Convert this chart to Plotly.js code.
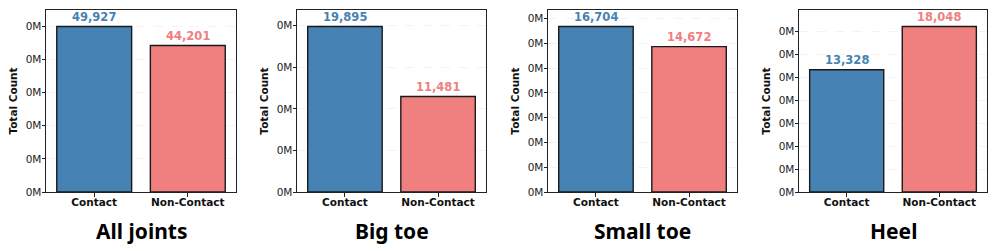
<!DOCTYPE html>
<html><head><meta charset="utf-8">
<script src="https://cdn.plot.ly/plotly-3.0.1.min.js"></script>
<style>html,body{margin:0;padding:0;background:#fff}#plot{width:997px;height:251px}</style>
</head><body><div id="plot"></div>
<script>
const categories = ["Contact", "Non-Contact"];
const panelTitles = ["All joints", "Big toe", "Small toe", "Heel"];
const contactValues = [49927, 19895, 16704, 13328];
const nonContactValues = [44201, 11481, 14672, 18048];
const tickSteps = [10000, 5000, 2500, 2500];
const tickLabel = "0M";

const W = 997, H = 251;
const xPix = [[46, 236], [297, 486], [548, 737], [799, 987]];
const yTop = 10, yBot = 192;
const barColors = ["#4682B4", "#F08080"];
const FONT = "DejaVu Sans, sans-serif";

const data = [], annotations = [];
const layout = {
  width: W, height: H, margin: {l: 0, r: 0, t: 0, b: 0},
  paper_bgcolor: "#fff", plot_bgcolor: "#fff", showlegend: false,
  bargap: 0.2, font: {family: FONT, color: "#222"}
};
const fmt = v => v.toLocaleString("en-US");

for (let i = 0; i < 4; i++) {
  const s = i === 0 ? "" : String(i + 1);
  const vals = [contactValues[i], nonContactValues[i]];
  const maxV = Math.max(...vals);
  const yMax = maxV * 1.1;
  data.push({
    type: "bar", x: categories, y: vals, xaxis: "x" + s, yaxis: "y" + s,
    marker: {color: barColors, line: {color: "#1a1a1a", width: 1.4}},
    hoverinfo: "none"
  });
  const tv = [], tt = [];
  for (let t = 0; t <= yMax; t += tickSteps[i]) { tv.push(t); tt.push(tickLabel); }
  layout["xaxis" + s] = {
    domain: [xPix[i][0] / W, xPix[i][1] / W], anchor: "y" + s,
    range: [-0.515, 1.515], showline: true, mirror: true, linecolor: "#222", linewidth: 1,
    ticks: "outside", ticklen: 3.5, tickcolor: "#222", showgrid: false, zeroline: false,
    ticklabelstandoff: -3,
    tickfont: {family: FONT, size: 10.5, color: "#111", weight: "bold"}
  };
  layout["yaxis" + s] = {
    domain: [(H - yBot) / H, (H - yTop) / H], anchor: "x" + s,
    range: [0, yMax], showline: true, mirror: true, linecolor: "#222", linewidth: 1,
    ticks: "outside", ticklen: 3.5, tickcolor: "#222",
    tickmode: "array", tickvals: tv, ticktext: tt, ticklabelstandoff: -2,
    tickfont: {family: FONT, size: 10.5, color: "#222"},
    showgrid: true, gridcolor: "rgba(0,0,0,0.06)", griddash: "dash", gridwidth: 0.8, zeroline: false,
    title: {text: "Total Count", standoff: 5, font: {family: FONT, size: 10.5, color: "#111", weight: "bold"}}
  };
  for (let k = 0; k < 2; k++) {
    annotations.push({
      xref: "x" + s, yref: "y" + s, x: categories[k], y: vals[k],
      text: "<b>" + fmt(vals[k]) + "</b>", showarrow: false, yanchor: "bottom", yshift: 1,
      font: {family: FONT, size: 11.5, color: barColors[k]}
    });
  }
  annotations.push({
    xref: "paper", yref: "paper", x: (xPix[i][0] + xPix[i][1]) / 2 / W, y: (H - 231) / H,
    text: "<b>" + panelTitles[i] + "</b>", showarrow: false, xanchor: "center", yanchor: "middle",
    font: {family: "Noto Sans, sans-serif", size: 21, color: "#000"}
  });
}
layout.annotations = annotations;
Plotly.newPlot("plot", data, layout, {staticPlot: true, displayModeBar: false});
</script></body></html>
